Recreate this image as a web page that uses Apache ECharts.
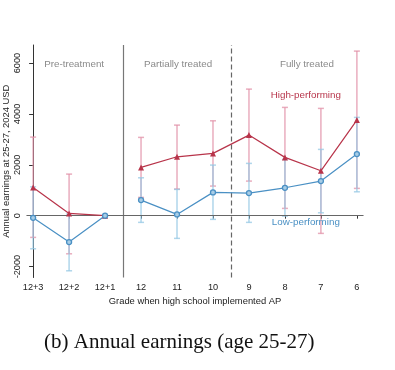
<!DOCTYPE html>
<html>
<head>
<meta charset="utf-8">
<style>html,body{margin:0;padding:0;background:#fff;}#c{width:395px;height:370px;}</style>
<script src="https://cdn.jsdelivr.net/npm/echarts@6/dist/echarts.min.js"></script>
</head>
<body>
<div id="c"></div>
<script>
const grades = ['12+3','12+2','12+1','12','11','10','9','8','7','6'];
const highEst = [1112, 90, 0, 1899, 2315, 2449, 3168, 2292, 1765, 3758];
const highLo  = [-853, -1498, null, 719, 1046, 1164, 1360, 287, -696, 1073];
const highHi  = [3090, 1635, null, 3078, 3561, 3730, 4976, 4257, 4218, 6470];
const lowEst  = [-83, -1038, 0, 613, 51, 916, 888, 1097, 1360, 2421];
const lowLo   = [-1301, -2166, null, -263, -892, -145, -263, -16, 114, 939];
const lowHi   = [1136, 63, null, 1490, 1034, 1989, 2056, 2213, 2606, 3864];
const yTicks = [-2000, 0, 2000, 4000, 6000];
const phaseLabels = [['Pre-treatment', 1.14, 5960], ['Partially treated', 4.03, 5960], ['Fully treated', 7.61, 5960]];
const seriesLabels = [['High-performing', 7.58, 4740, '#b8364c'], ['Low-performing', 7.58, -240, '#4a90c4']];
const breakAfter = 2; // the pre-treatment and treated segments are not joined

const FONT = '"Liberation Sans", Arial, sans-serif';
const RED = '#b8344a', PINK = 'rgba(226,145,168,0.75)';
const BLUE = '#4a90c4', LBLUE = 'rgba(150,200,228,0.75)';

function ciData(lo, hi) {
  const out = [];
  lo.forEach((v, i) => { if (v !== null) out.push([i, v, hi[i]]); });
  return out;
}
function lineData(est) {
  const out = [];
  est.forEach((v, i) => { out.push([i, v]); if (i === breakAfter) out.push([i + 0.5, '-']); });
  return out;
}
function ciRender(color) {
  return function (params, api) {
    const x = api.value(0);
    const a = api.coord([x, api.value(1)]);
    const b = api.coord([x, api.value(2)]);
    const w = 3;
    const st = { stroke: color, lineWidth: 1.5 };
    return { type: 'group', children: [
      { type: 'line', shape: { x1: a[0], y1: a[1], x2: b[0], y2: b[1] }, style: st },
      { type: 'line', shape: { x1: a[0] - w, y1: a[1], x2: a[0] + w, y2: a[1] }, style: st },
      { type: 'line', shape: { x1: b[0] - w, y1: b[1], x2: b[0] + w, y2: b[1] }, style: st }
    ]};
  };
}
function textRender(params, api) {
  const p = api.coord([api.value(1), api.value(2)]);
  return { type: 'text', x: p[0], y: p[1], style: {
    text: api.value(0), fill: api.value(3) || '#8a8a8a', font: '9.8px ' + FONT,
    textAlign: 'center', textVerticalAlign: 'middle' } };
}

const chart = echarts.init(document.getElementById('c'), null, { renderer: 'canvas' });
chart.setOption({
  animation: false,
  backgroundColor: '#fff',
  grid: { left: 27, right: 32, top: 45, bottom: 92.5, containLabel: false, outerBoundsMode: 'none' },
  xAxis: {
    type: 'value', min: -0.17, max: 9.17,
    name: 'Grade when high school implemented AP', nameLocation: 'middle', nameGap: 19, nameMoveOverlap: false,
    nameTextStyle: { fontFamily: FONT, fontSize: 9.4, color: '#222' },
    axisLine: { show: true, lineStyle: { color: '#333', width: 1 } },
    axisTick: { show: true, length: 3, customValues: grades.map((g, i) => i), lineStyle: { color: '#333' } },
    axisLabel: { customValues: grades.map((g, i) => i), formatter: v => grades[Math.round(v)],
      fontFamily: FONT, fontSize: 9.2, color: '#222', margin: 5 },
    splitLine: { show: false }
  },
  yAxis: {
    type: 'value', min: -2430, max: 6710,
    name: 'Annual earnings at 25-27, 2024 USD', nameLocation: 'middle', nameGap: 16, nameMoveOverlap: false,
    nameTextStyle: { fontFamily: FONT, fontSize: 9.4, color: '#222' },
    axisLine: { show: true, lineStyle: { color: '#333', width: 1 } },
    axisTick: { show: true, length: 4, customValues: yTicks, lineStyle: { color: '#333' } },
    axisLabel: { customValues: yTicks, rotate: 90, formatter: v => String(v),
      fontFamily: FONT, fontSize: 9.2, color: '#222', margin: 5 },
    splitLine: { show: false }
  },
  graphic: [{ type: 'text', left: 44, top: 332, style: {
    text: '(b) Annual earnings (age 25-27)', font: '21px "Liberation Serif", "DejaVu Serif", serif', fill: '#111' } }],
  series: [
    { type: 'custom', name: 'highCI', renderItem: ciRender(PINK), data: ciData(highLo, highHi), z: 2,
      markLine: { silent: true, symbol: 'none', label: { show: false }, data: [
        { xAxis: 2.5, lineStyle: { color: '#777', width: 1.2, type: 'solid' } },
        { xAxis: 5.5, lineStyle: { color: '#666', width: 1.2, type: [5, 3] } },
        { yAxis: 0, lineStyle: { color: '#666', width: 1, type: 'solid' } }
      ] } },
    { type: 'custom', name: 'lowCI', renderItem: ciRender(LBLUE), data: ciData(lowLo, lowHi), z: 3 },
    { type: 'line', name: 'High-performing', data: lineData(highEst), z: 5, connectNulls: false,
      lineStyle: { color: RED, width: 1.2 }, itemStyle: { color: RED },
      symbol: 'triangle', symbolSize: 6, showAllSymbol: true },
    { type: 'line', name: 'Low-performing', data: lineData(lowEst), z: 5, connectNulls: false,
      lineStyle: { color: BLUE, width: 1.2 }, itemStyle: { color: '#a8cde6', borderColor: BLUE, borderWidth: 1.3 },
      symbol: 'circle', symbolSize: 5, showAllSymbol: true },
    { type: 'custom', name: 'labels', renderItem: textRender, z: 6,
      data: phaseLabels.map(d => [d[0], d[1], d[2], '']).concat(seriesLabels.map(d => [d[0], d[1], d[2], d[3]])),
      dimensions: [{ name: 't', type: 'ordinal' }, 'x', 'y', { name: 'c', type: 'ordinal' }],
      encode: { x: 1, y: 2 } }
  ]
});
</script>
</body>
</html>
